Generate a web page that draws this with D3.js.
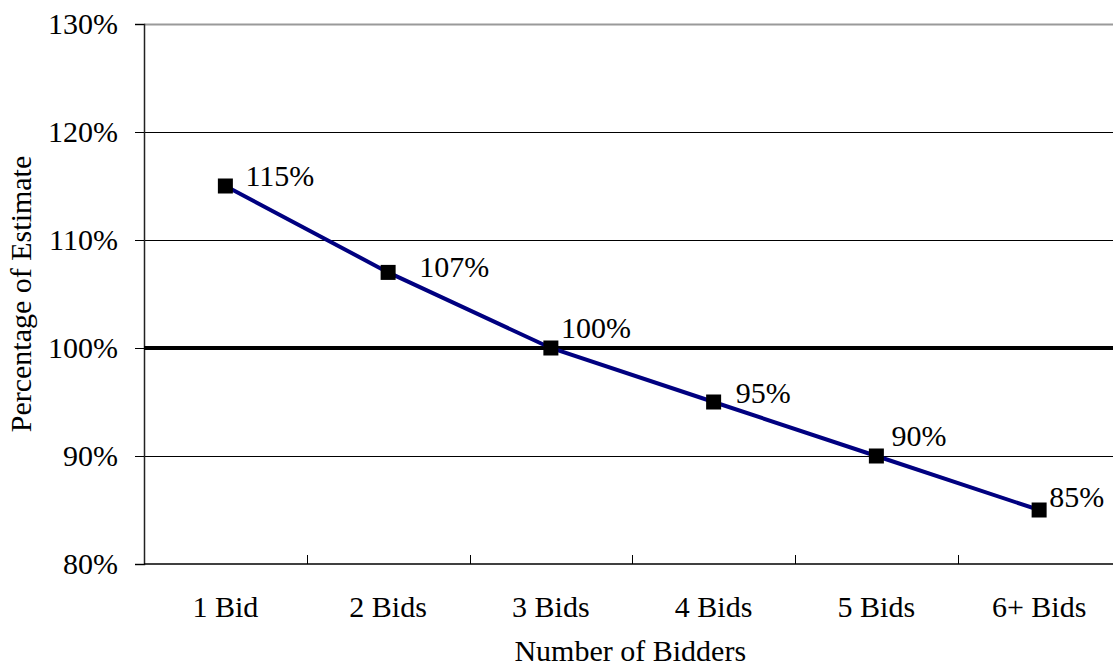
<!DOCTYPE html>
<html>
<head>
<meta charset="utf-8">
<script src="https://cdn.jsdelivr.net/npm/d3@7"></script>
<style>
  html, body { margin: 0; padding: 0; background: #fff; }
  svg { display: block; }
  svg text { font-family: "Liberation Serif", "DejaVu Serif", serif !important; fill: #000; }
</style>
</head>
<body>
<svg id="chart" width="1113" height="670"></svg>
<script>
// ---- data ----
const categories = ["1 Bid", "2 Bids", "3 Bids", "4 Bids", "5 Bids", "6+ Bids"];
const values = [115, 107, 100, 95, 90, 85];
const yTicks = [80, 90, 100, 110, 120, 130];
const referenceValue = 100;
const xTitle = "Number of Bidders";
const yTitle = "Percentage of Estimate";

// label placement offsets (dx, dy) relative to marker
const labelOffsets = [[20, 0], [31, 5], [10, -10], [22, 1], [15, -10], [10, -3]];

const FONT = '"Liberation Serif", "DejaVu Serif", serif';
const FS = "30px";

const svg = d3.select("#chart");
const m = { left: 144, top: 24, right: 1120.5, bottom: 564 };

const x = d3.scaleBand().domain(categories).range([m.left, m.right]);
const y = d3.scaleLinear().domain([80, 130]).range([m.bottom, m.top]);

// gridlines
svg.append("g").selectAll("line")
  .data(yTicks.filter(d => d !== 80 && d !== 130))
  .join("line")
  .attr("x1", m.left).attr("x2", m.right)
  .attr("y1", d => Math.round(y(d)) + 0.5).attr("y2", d => Math.round(y(d)) + 0.5)
  .attr("stroke", "#000").attr("stroke-width", 1);

// top border (gray)
svg.append("line")
  .attr("x1", m.left).attr("x2", m.right)
  .attr("y1", y(130) + 0.5).attr("y2", y(130) + 0.5)
  .attr("stroke", "#9a9a9a").attr("stroke-width", 2);

// y axis
const yAxis = d3.axisLeft(y).tickValues(yTicks).tickSize(9).tickPadding(17)
  .tickFormat(d => d + "%");
const gy = svg.append("g").attr("transform", `translate(${m.left},0)`).call(yAxis);
gy.attr("font-family", FONT).attr("font-size", FS);
gy.select(".domain").attr("stroke", "#222").attr("stroke-width", 1.5);
gy.selectAll(".tick line").attr("stroke", "#000");
gy.selectAll(".tick text").style("font-size", FS).style("font-family", FONT).attr("fill", "#000");

// x axis (ticks at band boundaries, inward)
svg.append("line")
  .attr("x1", m.left).attr("x2", m.right)
  .attr("y1", m.bottom).attr("y2", m.bottom)
  .attr("stroke", "#000").attr("stroke-width", 1.5);
svg.append("g").selectAll("line")
  .data(categories.slice(1))
  .join("line")
  .attr("x1", d => Math.round(x(d)) + 0.5).attr("x2", d => Math.round(x(d)) + 0.5)
  .attr("y1", m.bottom).attr("y2", m.bottom - 9)
  .attr("stroke", "#000").attr("stroke-width", 1);
svg.append("g").selectAll("text")
  .data(categories)
  .join("text")
  .attr("x", d => x(d) + x.bandwidth() / 2)
  .attr("y", 617)
  .attr("text-anchor", "middle")
  .style("font-size", FS).style("font-family", FONT)
  .text(d => d);

// reference line at 100%
svg.append("line")
  .attr("x1", m.left).attr("x2", m.right)
  .attr("y1", y(referenceValue)).attr("y2", y(referenceValue))
  .attr("stroke", "#000").attr("stroke-width", 4);

// series line
const pts = categories.map((c, i) => [x(c) + x.bandwidth() / 2, y(values[i])]);
svg.append("path")
  .attr("d", d3.line()(pts))
  .attr("fill", "none")
  .attr("stroke", "#000080")
  .attr("stroke-width", 4);

// markers
const ms = 15;
svg.append("g").selectAll("rect")
  .data(pts)
  .join("rect")
  .attr("x", d => d[0] - ms / 2).attr("y", d => d[1] - ms / 2)
  .attr("width", ms).attr("height", ms)
  .attr("fill", "#000");

// data labels
svg.append("g").selectAll("text")
  .data(pts)
  .join("text")
  .attr("x", (d, i) => d[0] + labelOffsets[i][0])
  .attr("y", (d, i) => d[1] + labelOffsets[i][1])
  .style("font-size", FS).style("font-family", FONT)
  .text((d, i) => values[i] + "%");

// axis titles
svg.append("text")
  .attr("x", (m.left + m.right) / 2 - 2)
  .attr("y", 661)
  .attr("text-anchor", "middle")
  .style("font-size", FS).style("font-family", FONT)
  .text(xTitle);

svg.append("text")
  .attr("transform", `translate(31,${(m.top + m.bottom) / 2}) rotate(-90)`)
  .attr("text-anchor", "middle")
  .style("font-size", FS).style("font-family", FONT)
  .text(yTitle);
</script>
</body>
</html>
